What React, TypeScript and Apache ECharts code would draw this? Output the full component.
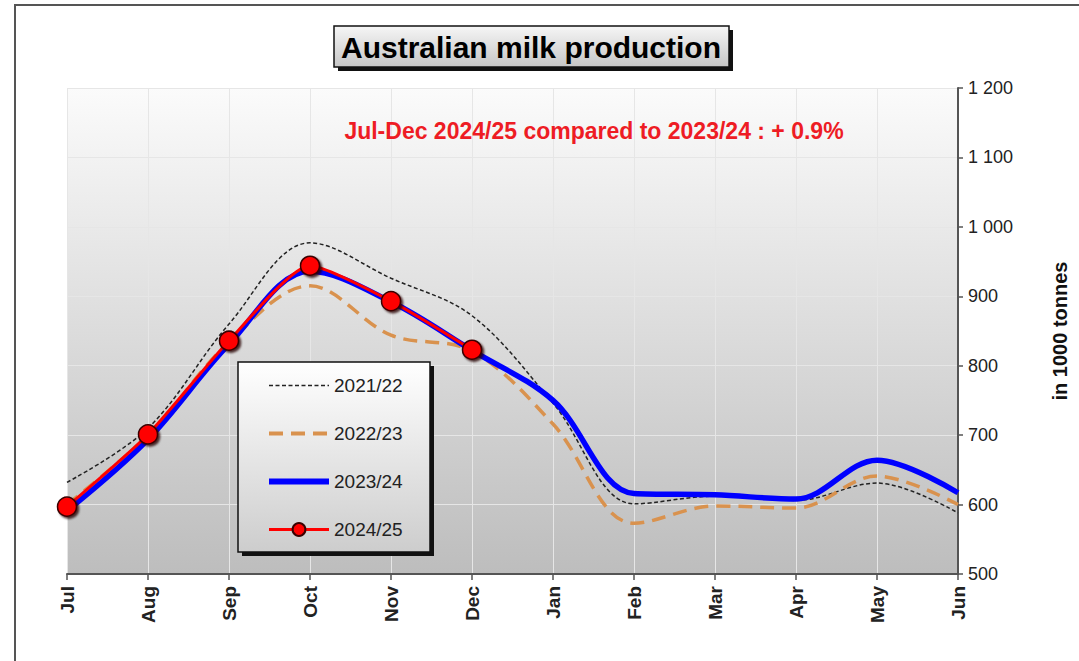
import React, { useEffect, useRef } from "react";
import * as echarts from "echarts";

const months = ["Jul", "Aug", "Sep", "Oct", "Nov", "Dec", "Jan", "Feb", "Mar", "Apr", "May", "Jun"];
const s2122 = [632, 710, 860, 977, 926, 872, 746, 601, 612, 606, 631, 588];
const s2223 = [600, 700, 834, 915, 844, 821, 716, 573, 598, 595, 641, 600];
const s2324 = [591, 694, 831, 936, 892, 822, 750, 616, 614, 608, 664, 617];
const s2425 = [597, 701, 836, 944, 893, 823, null, null, null, null, null, null];
const yTicks = [500, 600, 700, 800, 900, 1000, 1100, 1200];

const FONT = "'Liberation Sans', Arial, sans-serif";

function fmt(v: number): string {
  const s = String(v);
  return s.length > 3 ? s.slice(0, -3) + " " + s.slice(-3) : s;
}

export default function App() {
  const ref = useRef<HTMLDivElement>(null);
  useEffect(() => {
    if (!ref.current) return;
    const chart = echarts.init(ref.current, null, { renderer: "svg" });
    const grad = (a: string, b: string) =>
      new echarts.graphic.LinearGradient(0, 0, 0, 1, [
        { offset: 0, color: a },
        { offset: 1, color: b },
      ]);
    const clear = "rgba(0,0,0,0)";
    chart.setOption({
      animation: false,
      backgroundColor: "#ffffff",
      textStyle: { fontFamily: FONT },
      grid: {
        left: 67,
        right: 121,
        top: 88,
        bottom: 87,
        show: true,
        borderWidth: 0,
        backgroundColor: grad("#fbfbfb", "#bdbdbd"),
      },
      xAxis: {
        type: "category",
        data: months,
        boundaryGap: false,
        axisLine: { lineStyle: { color: "#555", width: 2 } },
        axisTick: { show: true, length: 6, lineStyle: { color: "#555", width: 1.5 } },
        axisLabel: {
          rotate: 90,
          fontWeight: "bold",
          fontSize: 19,
          color: "#222",
          margin: 12,
          fontFamily: FONT,
        },
        splitLine: { show: true, lineStyle: { color: "#e6e6e6", width: 1 } },
      },
      yAxis: {
        type: "value",
        position: "right",
        min: yTicks[0],
        max: yTicks[yTicks.length - 1],
        interval: 100,
        name: "in 1000 tonnes",
        nameLocation: "middle",
        nameRotate: 90,
        nameGap: 92,
        nameTextStyle: { fontWeight: "bold", fontSize: 20, color: "#111", fontFamily: FONT },
        axisLine: { show: true, lineStyle: { color: "#555", width: 2 } },
        axisTick: { show: true, length: 5, lineStyle: { color: "#555", width: 1.5 } },
        axisLabel: {
          formatter: (v: number) => fmt(v),
          fontSize: 18,
          color: "#222",
          margin: 10,
          fontFamily: FONT,
        },
        splitLine: { show: true, lineStyle: { color: "#e6e6e6", width: 1 } },
      },
      legend: {
        orient: "vertical",
        left: 238,
        top: 362,
        z: 20,
        padding: [14, 20, 14, 28],
        itemWidth: 60,
        itemHeight: 16,
        itemGap: 29,
        textStyle: { fontSize: 19, color: "#222", fontFamily: FONT },
        data: [
          { name: "2021/22", itemStyle: { color: clear, borderWidth: 0 }, lineStyle: { width: 1.5 } },
          { name: "2022/23", itemStyle: { color: clear, borderWidth: 0 }, lineStyle: { width: 4 } },
          { name: "2023/24", itemStyle: { color: clear, borderWidth: 0 }, lineStyle: { width: 6 } },
          { name: "2024/25", lineStyle: { width: 3 } },
        ],
      },
      graphic: [
        {
          type: "polyline",
          shape: { points: [[15, 700], [15, 5], [1090, 5]] },
          style: { stroke: "#555", lineWidth: 2, fill: "none" },
          z: 0,
        },
        {
          type: "rect",
          shape: { x: 338, y: 30, width: 395, height: 41 },
          style: { fill: "#111" },
          z: 10,
        },
        {
          type: "rect",
          shape: { x: 334, y: 26, width: 395, height: 41 },
          style: { fill: grad("#f6f6f6", "#c6c6c6"), stroke: "#111", lineWidth: 1.5 },
          z: 11,
        },
        {
          type: "text",
          x: 531,
          y: 47,
          style: {
            text: "Australian milk production",
            font: "bold 30px " + FONT,
            fill: "#000",
            textAlign: "center",
            textVerticalAlign: "middle",
          },
          z: 12,
        },
        {
          type: "text",
          x: 594,
          y: 131,
          style: {
            text: "Jul-Dec 2024/25 compared to 2023/24 : + 0.9%",
            font: "bold 23px " + FONT,
            fill: "#ee1c24",
            textAlign: "center",
            textVerticalAlign: "middle",
          },
          z: 12,
        },
        {
          type: "rect",
          shape: { x: 242, y: 366, width: 192, height: 190 },
          style: { fill: "#111" },
          z: 10,
        },
        {
          type: "rect",
          shape: { x: 238, y: 362, width: 192, height: 190 },
          style: { fill: grad("#ffffff", "#cdcdcd"), stroke: "#111", lineWidth: 1.5 },
          z: 11,
        },
      ],
      series: [
        {
          name: "2021/22",
          type: "line",
          data: s2122,
          smooth: 0.35,
          symbol: "none",
          lineStyle: { color: "#222", width: 1.5, type: [4, 2.5] },
          itemStyle: { color: clear },
          z: 3,
        },
        {
          name: "2022/23",
          type: "line",
          data: s2223,
          smooth: 0.35,
          symbol: "none",
          lineStyle: { color: "#d9924e", width: 3.5, type: [14, 8] },
          itemStyle: { color: clear },
          z: 3,
        },
        {
          name: "2023/24",
          type: "line",
          data: s2324,
          smooth: 0.35,
          symbol: "none",
          lineStyle: { color: "#0000ff", width: 5.5 },
          itemStyle: { color: clear },
          z: 4,
        },
        {
          name: "2024/25",
          type: "line",
          data: s2425,
          smooth: 0.2,
          symbol: "circle",
          symbolSize: 19,
          lineStyle: { color: "#ff0000", width: 3 },
          itemStyle: {
            color: "#ff0000",
            borderColor: "#3a0000",
            borderWidth: 1.5,
            shadowColor: "rgba(40,0,0,0.8)",
            shadowBlur: 2,
            shadowOffsetX: 2,
            shadowOffsetY: 2,
          },
          z: 5,
        },
      ],
    });
    return () => chart.dispose();
  }, []);
  return (
    <div
      ref={ref}
      style={{ position: "fixed", left: 0, top: 0, width: 1079, height: 661 }}
    />
  );
}
